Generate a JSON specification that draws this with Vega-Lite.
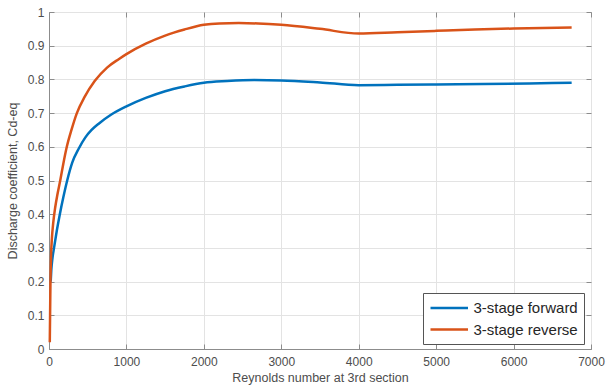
{
  "$schema": "https://vega.github.io/schema/vega-lite/v6.json",
  "width": 542,
  "height": 337,
  "autosize": {"type": "none"},
  "padding": {"left": 49, "top": 12, "right": 17, "bottom": 41},
  "background": "white",
  "config": {
    "view": {"stroke": "#8c8c8c", "strokeWidth": 1},
    "font": "Liberation Sans",
    "axis": {
      "labelFont": "Liberation Sans",
      "titleFont": "Liberation Sans",
      "labelFontSize": 12,
      "titleFontSize": 12.5,
      "labelColor": "#4d4d4d",
      "titleColor": "#4d4d4d",
      "titleFontWeight": "normal",
      "gridColor": "#e3e3e3",
      "gridWidth": 1,
      "domainColor": "#8c8c8c",
      "tickColor": "#8c8c8c",
      "tickSize": -5
    }
  },
  "data": {
    "values": [
      {"series": "3-stage forward", "Re": 22, "Cd": 0.2},
      {"series": "3-stage forward", "Re": 30, "Cd": 0.235},
      {"series": "3-stage forward", "Re": 45, "Cd": 0.27},
      {"series": "3-stage forward", "Re": 65, "Cd": 0.3},
      {"series": "3-stage forward", "Re": 100, "Cd": 0.35},
      {"series": "3-stage forward", "Re": 140, "Cd": 0.4},
      {"series": "3-stage forward", "Re": 185, "Cd": 0.45},
      {"series": "3-stage forward", "Re": 235, "Cd": 0.5},
      {"series": "3-stage forward", "Re": 300, "Cd": 0.553},
      {"series": "3-stage forward", "Re": 385, "Cd": 0.595},
      {"series": "3-stage forward", "Re": 470, "Cd": 0.628},
      {"series": "3-stage forward", "Re": 550, "Cd": 0.65},
      {"series": "3-stage forward", "Re": 650, "Cd": 0.67},
      {"series": "3-stage forward", "Re": 800, "Cd": 0.695},
      {"series": "3-stage forward", "Re": 1000, "Cd": 0.72},
      {"series": "3-stage forward", "Re": 1250, "Cd": 0.745},
      {"series": "3-stage forward", "Re": 1500, "Cd": 0.765},
      {"series": "3-stage forward", "Re": 1750, "Cd": 0.779},
      {"series": "3-stage forward", "Re": 2000, "Cd": 0.79},
      {"series": "3-stage forward", "Re": 2300, "Cd": 0.795},
      {"series": "3-stage forward", "Re": 2650, "Cd": 0.798},
      {"series": "3-stage forward", "Re": 3000, "Cd": 0.797},
      {"series": "3-stage forward", "Re": 3500, "Cd": 0.791},
      {"series": "3-stage forward", "Re": 4000, "Cd": 0.783},
      {"series": "3-stage forward", "Re": 4500, "Cd": 0.784},
      {"series": "3-stage forward", "Re": 5000, "Cd": 0.785},
      {"series": "3-stage forward", "Re": 5600, "Cd": 0.786},
      {"series": "3-stage forward", "Re": 6200, "Cd": 0.788},
      {"series": "3-stage forward", "Re": 6750, "Cd": 0.79},
      {"series": "3-stage reverse", "Re": 10, "Cd": 0.02},
      {"series": "3-stage reverse", "Re": 14, "Cd": 0.1},
      {"series": "3-stage reverse", "Re": 19, "Cd": 0.2},
      {"series": "3-stage reverse", "Re": 27, "Cd": 0.28},
      {"series": "3-stage reverse", "Re": 38, "Cd": 0.33},
      {"series": "3-stage reverse", "Re": 55, "Cd": 0.375},
      {"series": "3-stage reverse", "Re": 80, "Cd": 0.42},
      {"series": "3-stage reverse", "Re": 110, "Cd": 0.46},
      {"series": "3-stage reverse", "Re": 145, "Cd": 0.5},
      {"series": "3-stage reverse", "Re": 185, "Cd": 0.55},
      {"series": "3-stage reverse", "Re": 230, "Cd": 0.6},
      {"series": "3-stage reverse", "Re": 290, "Cd": 0.65},
      {"series": "3-stage reverse", "Re": 360, "Cd": 0.7},
      {"series": "3-stage reverse", "Re": 460, "Cd": 0.748},
      {"series": "3-stage reverse", "Re": 590, "Cd": 0.795},
      {"series": "3-stage reverse", "Re": 750, "Cd": 0.835},
      {"series": "3-stage reverse", "Re": 900, "Cd": 0.86},
      {"series": "3-stage reverse", "Re": 1000, "Cd": 0.875},
      {"series": "3-stage reverse", "Re": 1250, "Cd": 0.906},
      {"series": "3-stage reverse", "Re": 1500, "Cd": 0.93},
      {"series": "3-stage reverse", "Re": 1750, "Cd": 0.948},
      {"series": "3-stage reverse", "Re": 2000, "Cd": 0.962},
      {"series": "3-stage reverse", "Re": 2200, "Cd": 0.966},
      {"series": "3-stage reverse", "Re": 2450, "Cd": 0.967},
      {"series": "3-stage reverse", "Re": 2700, "Cd": 0.966},
      {"series": "3-stage reverse", "Re": 3000, "Cd": 0.962},
      {"series": "3-stage reverse", "Re": 3500, "Cd": 0.95},
      {"series": "3-stage reverse", "Re": 4000, "Cd": 0.936},
      {"series": "3-stage reverse", "Re": 4500, "Cd": 0.94},
      {"series": "3-stage reverse", "Re": 5000, "Cd": 0.944},
      {"series": "3-stage reverse", "Re": 5500, "Cd": 0.948},
      {"series": "3-stage reverse", "Re": 6000, "Cd": 0.951},
      {"series": "3-stage reverse", "Re": 6750, "Cd": 0.954}
    ]
  },
  "layer": [
    {
      "mark": {"type": "line", "strokeWidth": 2.5, "interpolate": "monotone"},
      "encoding": {
        "x": {
          "field": "Re", "type": "quantitative",
          "scale": {"domain": [0, 7000], "nice": false, "zero": false},
          "axis": {
            "title": "Reynolds number at 3rd section",
            "values": [0, 1000, 2000, 3000, 4000, 5000, 6000, 7000],
            "format": "d",
            "labelPadding": 12,
            "titlePadding": 4,
            "labelFlush": false
          }
        },
        "y": {
          "field": "Cd", "type": "quantitative",
          "scale": {"domain": [0, 1], "nice": false, "zero": false},
          "axis": {
            "title": "Discharge coefficient, Cd-eq",
            "values": [0, 0.1, 0.2, 0.3, 0.4, 0.5, 0.6, 0.7, 0.8, 0.9, 1],
            "format": "~g",
            "labelPadding": 10,
            "titlePadding": 8,
            "labelFlush": false
          }
        },
        "color": {
          "field": "series", "type": "nominal",
          "scale": {"domain": ["3-stage forward", "3-stage reverse"], "range": ["#0072BD", "#D95319"]},
          "legend": {
            "title": null,
            "orient": "none",
            "legendX": 374,
            "legendY": 281,
            "symbolType": "M-1,0H4",
            "symbolSize": 225,
            "symbolStrokeWidth": 2.5,
            "labelFont": "Liberation Sans",
            "labelFontSize": 15,
            "labelColor": "#262626",
            "strokeColor": "#555555",
            "fillColor": "white",
            "padding": 6,
            "rowPadding": 4.5,
            "labelOffset": 26.5
          }
        }
      }
    },
    {
      "mark": {"type": "line", "opacity": 0},
      "encoding": {
        "x": {
          "field": "Re", "type": "quantitative",
          "scale": {"domain": [0, 7000], "nice": false, "zero": false},
          "axis": {"orient": "top", "title": null, "labels": false, "grid": false, "domain": false,
                   "values": [0, 1000, 2000, 3000, 4000, 5000, 6000, 7000]}
        },
        "y": {
          "field": "Cd", "type": "quantitative",
          "scale": {"domain": [0, 1], "nice": false, "zero": false},
          "axis": {"orient": "right", "title": null, "labels": false, "grid": false, "domain": false,
                   "values": [0, 0.1, 0.2, 0.3, 0.4, 0.5, 0.6, 0.7, 0.8, 0.9, 1]}
        },
        "detail": {"field": "series"}
      }
    }
  ],
  "resolve": {"axis": {"x": "independent", "y": "independent"}}
}
